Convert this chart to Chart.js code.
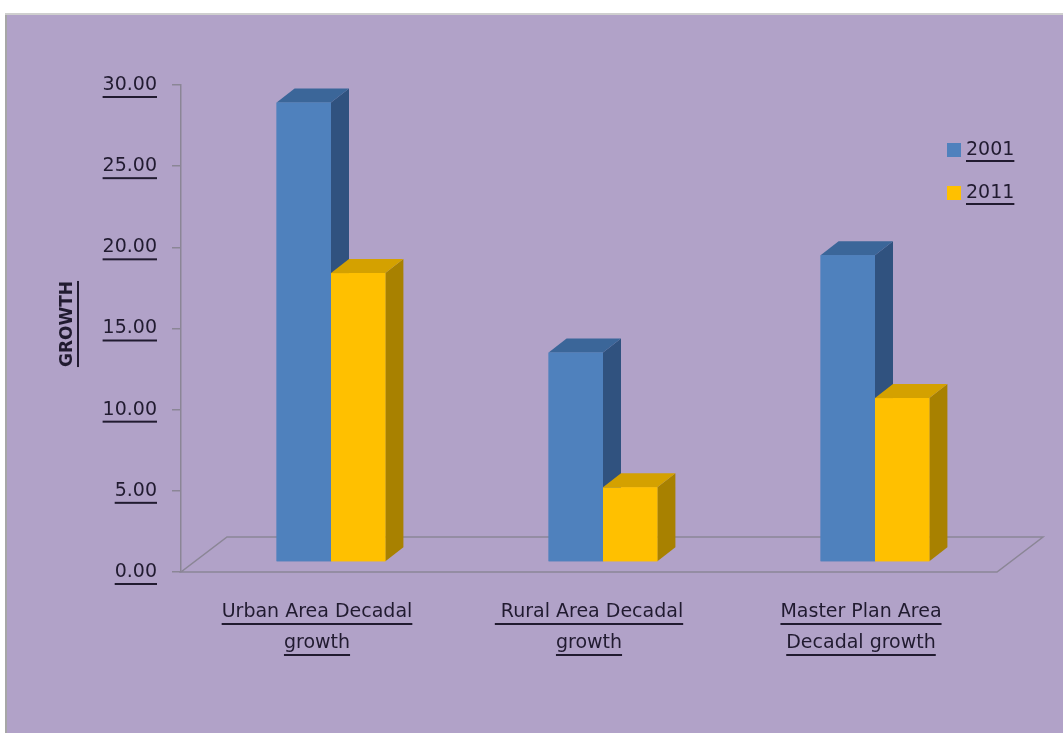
<!DOCTYPE html>
<html>
<head>
<meta charset="utf-8">
<script src="https://cdn.jsdelivr.net/npm/chart.js@4.4.1/dist/chart.umd.min.js"></script>
<style>
html, body { margin: 0; padding: 0; background: #ffffff; }
#grafica { display: block; }
</style>
</head>
<body>
<canvas id="grafica" width="1063" height="733"></canvas>
<script>
// Categorias (una linea por renglon de la etiqueta)
var categorias = [
    ['Urban Area Decadal', 'growth'],
    [' Rural Area Decadal', 'growth'],
    ['Master Plan Area', 'Decadal growth']
];
// Series
var series = ['2001', '2011'];
var valores2001 = [28.3, 12.9, 18.9];
var valores2011 = [17.8, 4.6, 10.1];
// Eje Y
var ejeMin = 0;
var ejeMax = 30;
var ejePaso = 5;
var tituloY = 'GROWTH';

// Colores de cada serie: frente, tapa, costado
var colores = [
    { frente: '#4f81bd', tapa: '#3b6699', lado: '#30527f' },
    { frente: '#ffc000', tapa: '#d4a100', lado: '#a88100' }
];
var fondo = '#b1a2c8';
var colorTexto = '#211b30';
var colorEje = '#8b8696';
var fuente = '"DejaVu Sans", sans-serif';

// Profundidad del piso y de las barras (efecto 3D)
var piso = { dx: 46, dy: -35 };
var barraDesp = { dx: 14, dy: -10 };
var barraProf = { dx: 18, dy: -14 };

// Fondo lila con borde gris
var pluginFondo = {
    id: 'fondo',
    beforeDraw: function(chart) {
        var ctx = chart.ctx;
        ctx.save();
        ctx.fillStyle = '#ffffff';
        ctx.fillRect(0, 0, chart.width, chart.height);
        ctx.fillStyle = fondo;
        ctx.fillRect(7, 15, chart.width - 7, chart.height - 15);
        ctx.fillStyle = '#a7a7a7';
        ctx.fillRect(5, 14, 2, chart.height - 14);
        ctx.fillStyle = '#cfcfcf';
        ctx.fillRect(5, 13, chart.width - 5, 2);
        ctx.restore();
    }
};

// Dibuja el piso y las caras 3D de cada barra
var pluginCubos = {
    id: 'cubos',
    beforeDatasetsDraw: function(chart) {
        var ctx = chart.ctx;
        var a = chart.chartArea;
        var y0 = chart.scales.y.getPixelForValue(ejeMin);
        ctx.save();
        ctx.strokeStyle = colorEje;
        ctx.lineWidth = 1.5;
        ctx.beginPath();
        ctx.moveTo(a.left, y0);
        ctx.lineTo(a.right, y0);
        ctx.lineTo(a.right + piso.dx, y0 + piso.dy);
        ctx.lineTo(a.left + piso.dx, y0 + piso.dy);
        ctx.closePath();
        ctx.stroke();
        ctx.restore();
        // las barras quedan a media profundidad del piso
        ctx.save();
        ctx.translate(barraDesp.dx, barraDesp.dy);
    },
    afterDatasetsDraw: function(chart) {
        var ctx = chart.ctx;
        ctx.restore();
        ctx.save();
        for (var i = 0; i < categorias.length; i++) {
            for (var d = 0; d < series.length; d++) {
                var bar = chart.getDatasetMeta(d).data[i];
                var c = colores[d];
                var izq = bar.x - bar.width / 2 + barraDesp.dx;
                var der = bar.x + bar.width / 2 + barraDesp.dx;
                var arriba = bar.y + barraDesp.dy;
                var abajo = bar.base + barraDesp.dy;
                // costado
                ctx.fillStyle = c.lado;
                ctx.beginPath();
                ctx.moveTo(der, arriba);
                ctx.lineTo(der + barraProf.dx, arriba + barraProf.dy);
                ctx.lineTo(der + barraProf.dx, abajo + barraProf.dy);
                ctx.lineTo(der, abajo);
                ctx.closePath();
                ctx.fill();
                // tapa
                ctx.fillStyle = c.tapa;
                ctx.beginPath();
                ctx.moveTo(izq, arriba);
                ctx.lineTo(izq + barraProf.dx, arriba + barraProf.dy);
                ctx.lineTo(der + barraProf.dx, arriba + barraProf.dy);
                ctx.lineTo(der, arriba);
                ctx.closePath();
                ctx.fill();
                // frente
                ctx.fillStyle = c.frente;
                ctx.fillRect(izq, arriba, der - izq, abajo - arriba);
            }
        }
        ctx.restore();
    }
};

// Textos subrayados: etiquetas, titulo del eje y leyenda
function subrayar(ctx, x, y, w) {
    ctx.fillRect(x, y, w, 2);
}

var pluginTextos = {
    id: 'textos',
    afterDraw: function(chart) {
        var ctx = chart.ctx;
        var ejeY = chart.scales.y;
        var ejeX = chart.scales.x;
        ctx.save();
        ctx.fillStyle = colorTexto;

        // subrayado de las marcas del eje Y
        ctx.font = '19px ' + fuente;
        var finX = ejeY.right - 9 - 15;
        ejeY.ticks.forEach(function(t) {
            var w = ctx.measureText(t.label).width;
            subrayar(ctx, finX - w, ejeY.getPixelForValue(t.value) + 11, w);
        });

        // etiquetas de categorias
        ctx.font = '19px ' + fuente;
        ctx.textAlign = 'center';
        ctx.textBaseline = 'middle';
        for (var i = 0; i < categorias.length; i++) {
            var cx = ejeX.getPixelForTick(i);
            for (var l = 0; l < categorias[i].length; l++) {
                var ly = 612 + l * 31;
                var txt = categorias[i][l];
                var w = ctx.measureText(txt).width;
                ctx.fillText(txt, cx, ly);
                subrayar(ctx, cx - w / 2, ly + 11, w);
            }
        }

        // titulo del eje Y
        ctx.save();
        ctx.translate(68, 324);
        ctx.rotate(-Math.PI / 2);
        ctx.font = 'bold 17px ' + fuente;
        var wt = ctx.measureText(tituloY).width;
        ctx.fillText(tituloY, 0, 0);
        subrayar(ctx, -wt / 2, 9, wt);
        ctx.restore();

        // leyenda
        ctx.textAlign = 'left';
        ctx.font = '19px ' + fuente;
        for (var d = 0; d < series.length; d++) {
            var ly2 = 150 + d * 43;
            ctx.fillStyle = colores[d].frente;
            ctx.fillRect(947, ly2 - 7, 14, 14);
            ctx.fillStyle = colorTexto;
            ctx.fillText(chart.data.datasets[d].label, 966, ly2);
            var wl = ctx.measureText(chart.data.datasets[d].label).width;
            subrayar(ctx, 966, ly2 + 10, wl);
        }
        ctx.restore();
    }
};

var grafica = new Chart(document.getElementById('grafica'), {
    type: 'bar',
    data: {
        labels: categorias,
        datasets: [{
            label: series[0],
            data: valores2001,
            backgroundColor: colores[0].frente,
            borderWidth: 0,
            clip: false
        }, {
            label: series[1],
            data: valores2011,
            backgroundColor: colores[1].frente,
            borderWidth: 0,
            clip: false
        }]
    },
    options: {
        responsive: false,
        animation: false,
        layout: {
            padding: { left: 0, right: 66, top: 85, bottom: 161 }
        },
        datasets: {
            bar: { barPercentage: 1.0, categoryPercentage: 0.4 }
        },
        plugins: {
            legend: { display: false },
            tooltip: { enabled: false }
        },
        scales: {
            x: {
                display: false
            },
            y: {
                min: ejeMin,
                max: ejeMax,
                afterFit: function(scale) { scale.width = 181; },
                border: { display: true, color: colorEje, width: 1.5 },
                grid: { display: true, drawOnChartArea: false, drawTicks: true, tickLength: 9, color: colorEje, lineWidth: 1.5 },
                ticks: {
                    stepSize: ejePaso,
                    padding: 15,
                    color: colorTexto,
                    font: { family: fuente, size: 19 },
                    callback: function(v) { return v.toFixed(2); }
                }
            }
        }
    },
    plugins: [pluginFondo, pluginCubos, pluginTextos]
});
</script>
</body>
</html>
